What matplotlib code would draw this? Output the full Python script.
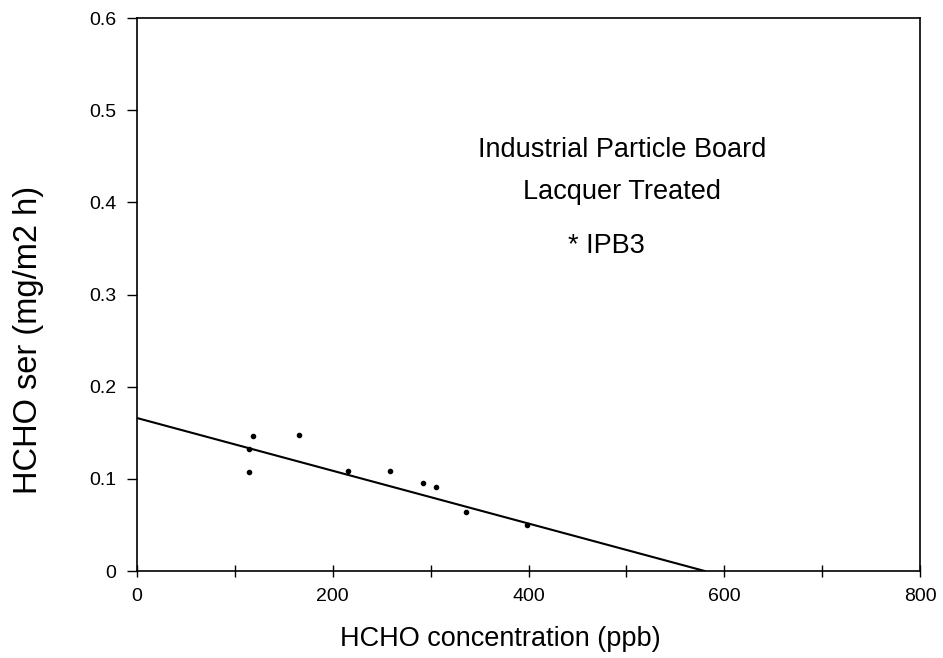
import matplotlib
matplotlib.use("Agg")
import matplotlib.pyplot as plt
import numpy as np

plt.rcParams['font.family'] = ['Liberation Sans', 'DejaVu Sans']

conc = [118, 114, 114, 165, 216, 258, 292, 305, 336, 398]
ser = [0.146, 0.132, 0.107, 0.148, 0.108, 0.108, 0.095, 0.091, 0.064, 0.050]
fit_x = [0, 580]
fit_y = [0.166, 0.0]

fig = plt.figure(figsize=(9.43, 6.58), dpi=100)
ax = fig.add_axes([0.1453, 0.1322, 0.8303, 0.8404])
ax.plot(conc, ser, 'o', color='black', markersize=3)
ax.plot(fit_x, fit_y, '-', color='black', linewidth=1.5)

ax.set_xlim(0, 800)
ax.set_ylim(0, 0.6)
ax.set_xticks([0, 200, 400, 600, 800])
ax.set_xticklabels(['0', '200', '400', '600', '800'])
ax.set_xticks(np.arange(0, 801, 100), minor=True)
ax.set_yticks([0, 0.1, 0.2, 0.3, 0.4, 0.5, 0.6])
ax.set_yticklabels(['0', '0.1', '0.2', '0.3', '0.4', '0.5', '0.6'])
ax.tick_params(axis='x', which='both', direction='inout', length=9, width=1, labelsize=14, pad=8)
ax.tick_params(axis='y', direction='out', length=7, width=1, labelsize=14, pad=8)
for s in ax.spines.values():
    s.set_linewidth(1.2)

ax.set_xlabel('HCHO concentration (ppb)', fontsize=19.5, va='center')
ax.xaxis.set_label_coords(0.4636, -0.123)
ax.set_ylabel('HCHO ser (mg/m2 h)', fontsize=23.5, va='center')
ax.yaxis.set_label_coords(-0.1390, 0.4177)

ax.text(496, 0.4566, 'Industrial Particle Board', ha='center', va='center', fontsize=19.5)
ax.text(496, 0.411, 'Lacquer Treated', ha='center', va='center', fontsize=19.5)
ax.text(480, 0.3525, '* IPB3', ha='center', va='center', fontsize=19.5)

fig.savefig('out.png', dpi=100)
